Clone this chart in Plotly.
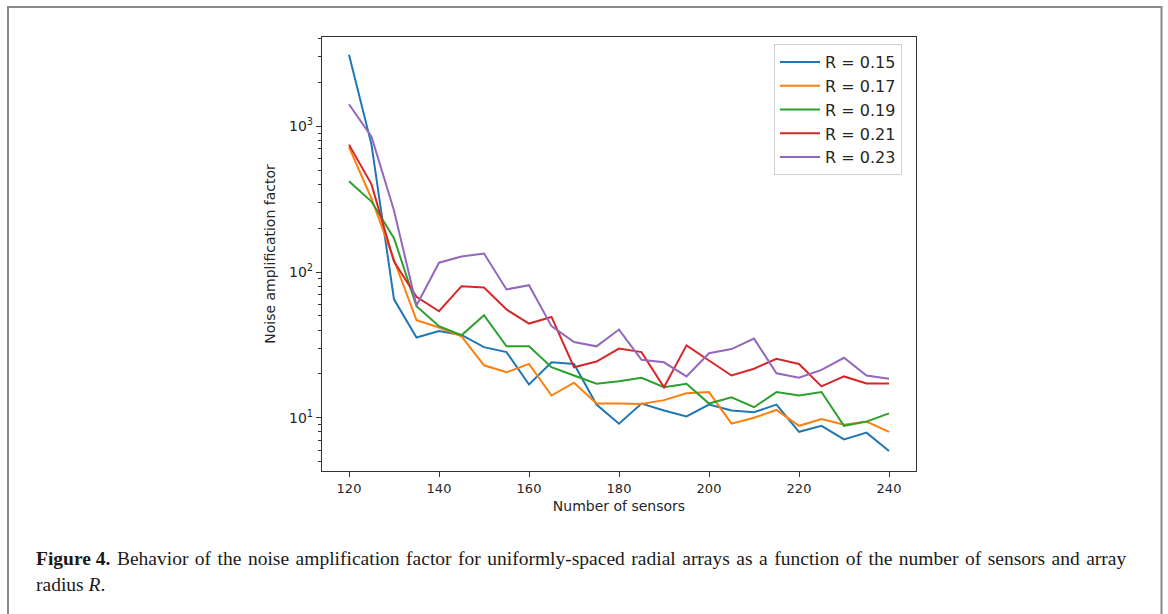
import plotly.graph_objects as go

sensors = [120, 125, 130, 135, 140, 145, 150, 155, 160, 165, 170, 175, 180,
           185, 190, 195, 200, 205, 210, 215, 220, 225, 230, 235, 240]

r015 = [3100, 750, 65, 35.5, 39.4, 37, 30.5, 28.2, 16.9, 24, 23.4, 12.3, 9.1,
        12.5, 11.2, 10.2, 12.3, 11.2, 10.9, 12.3, 8.0, 8.8, 7.1, 7.9, 5.9]
r017 = [720, 320, 121, 46.7, 41.6, 36.2, 22.9, 20.5, 23.4, 14.2, 17.4, 12.5, 12.5,
        12.4, 13.2, 14.7, 15.0, 9.1, 10.0, 11.3, 8.8, 9.8, 8.96, 9.4, 8.0]
r019 = [420, 305, 171, 58.3, 42.5, 36.8, 50.5, 30.9, 30.9, 22.2, 19.5, 17.1, 17.8,
        18.8, 16.2, 17.1, 12.5, 13.8, 11.8, 15.0, 14.2, 15.0, 8.8, 9.4, 10.7]
r021 = [750, 400, 118, 67.6, 53.8, 80, 78.3, 55.3, 44.3, 49.2, 22.2, 24.3, 29.8,
        28.2, 16.2, 31.4, 24.7, 19.5, 21.7, 25.4, 23.4, 16.4, 19.2, 17.2, 17.2]
r023 = [1420, 850, 265, 59, 116, 128, 134, 76, 81.3, 42.5, 33.1, 30.9, 40.3,
        25, 24, 19.2, 27.7, 29.6, 34.9, 20.2, 18.8, 21.3, 25.8, 19.5, 18.5]

series_names = ["R = 0.15", "R = 0.17", "R = 0.19", "R = 0.21", "R = 0.23"]
series_values = [r015, r017, r019, r021, r023]
colors = ["#1f77b4", "#ff7f0e", "#2ca02c", "#d62728", "#9467bd"]

x_ticks = [120, 140, 160, 180, 200, 220, 240]
y_ticks = [10, 100, 1000]
y_tick_text = ["10<sup>1</sup>", "10<sup>2</sup>", "10<sup>3</sup>"]
y_minor = [m * 10 ** k for k in range(0, 4) for m in range(2, 10)]

caption_bold = "Figure 4."
caption_rest = ("Behavior of the noise amplification factor for uniformly-spaced "
                "radial arrays as a function of the number of sensors and array")
caption_line2 = "radius <i>R</i>."

# justified-looking first line: widen each word gap slightly
wide_gap = " \u200a"
caption_line1 = "<b>" + caption_bold + "</b>" + wide_gap + caption_rest.replace(" ", wide_gap)

fig = go.Figure()
for i, (name, vals, col) in enumerate(zip(series_names, series_values, colors)):
    fig.add_trace(go.Scatter(x=sensors, y=vals, mode="lines", name=name,
                             line=dict(color=col, width=2)))

L, R, T, B = 322, 252, 37, 143
W, H = 1168, 614
pw, ph = W - L - R, H - T - B

def px_x(p):
    return (p - L) / pw

def px_y(p):
    return (H - B - p) / ph

axis_common = dict(showgrid=False, zeroline=False, showline=True, mirror=True,
                   linecolor="#333333", linewidth=1.3, ticks="outside",
                   ticklen=5, tickwidth=1.2, tickcolor="#333333",
                   tickfont=dict(family="DejaVu Sans", size=13, color="#262626"))

fig.update_xaxes(range=[114, 246], tickvals=x_ticks,
                 title=dict(text="Number of sensors", standoff=6,
                            font=dict(family="DejaVu Sans", size=14, color="#262626")),
                 **axis_common)
fig.update_yaxes(type="log", range=[0.634, 3.614], tickvals=y_ticks, ticktext=y_tick_text,
                 minor=dict(tickvals=y_minor, ticks="outside", ticklen=3,
                            tickwidth=1, tickcolor="#333333"),
                 title=dict(text="Noise amplification factor", standoff=10,
                            font=dict(family="DejaVu Sans", size=14, color="#262626")),
                 **axis_common)
fig.update_yaxes(tickfont=dict(family="DejaVu Sans", size=14, color="#262626"))

fig.update_layout(
    width=W, height=H,
    margin=dict(l=L, r=R, t=T, b=B),
    paper_bgcolor="white", plot_bgcolor="white",
    showlegend=True,
    legend=dict(x=px_x(902), y=px_y(44), xanchor="right", yanchor="top",
                bgcolor="rgba(255,255,255,0.8)", bordercolor="#d0d0d0", borderwidth=1,
                font=dict(family="DejaVu Sans", size=16, color="#262626"),
                itemwidth=40),
    shapes=[dict(type="rect", xref="paper", yref="paper",
                 x0=px_x(8), x1=px_x(1161.5), y0=px_y(640), y1=px_y(7),
                 line=dict(color="#8a8a8a", width=2), fillcolor="rgba(0,0,0,0)",
                 layer="below")],
    annotations=[
        dict(text=caption_line1, xref="paper", yref="paper", x=px_x(34), y=px_y(558),
             xanchor="left", yanchor="middle", showarrow=False,
             font=dict(family="Liberation Serif", size=19.5, color="#1a1a1a")),
        dict(text=caption_line2, xref="paper", yref="paper", x=px_x(34), y=px_y(584),
             xanchor="left", yanchor="middle", showarrow=False,
             font=dict(family="Liberation Serif", size=19.5, color="#1a1a1a")),
    ],
)

fig.write_html("out.html")
